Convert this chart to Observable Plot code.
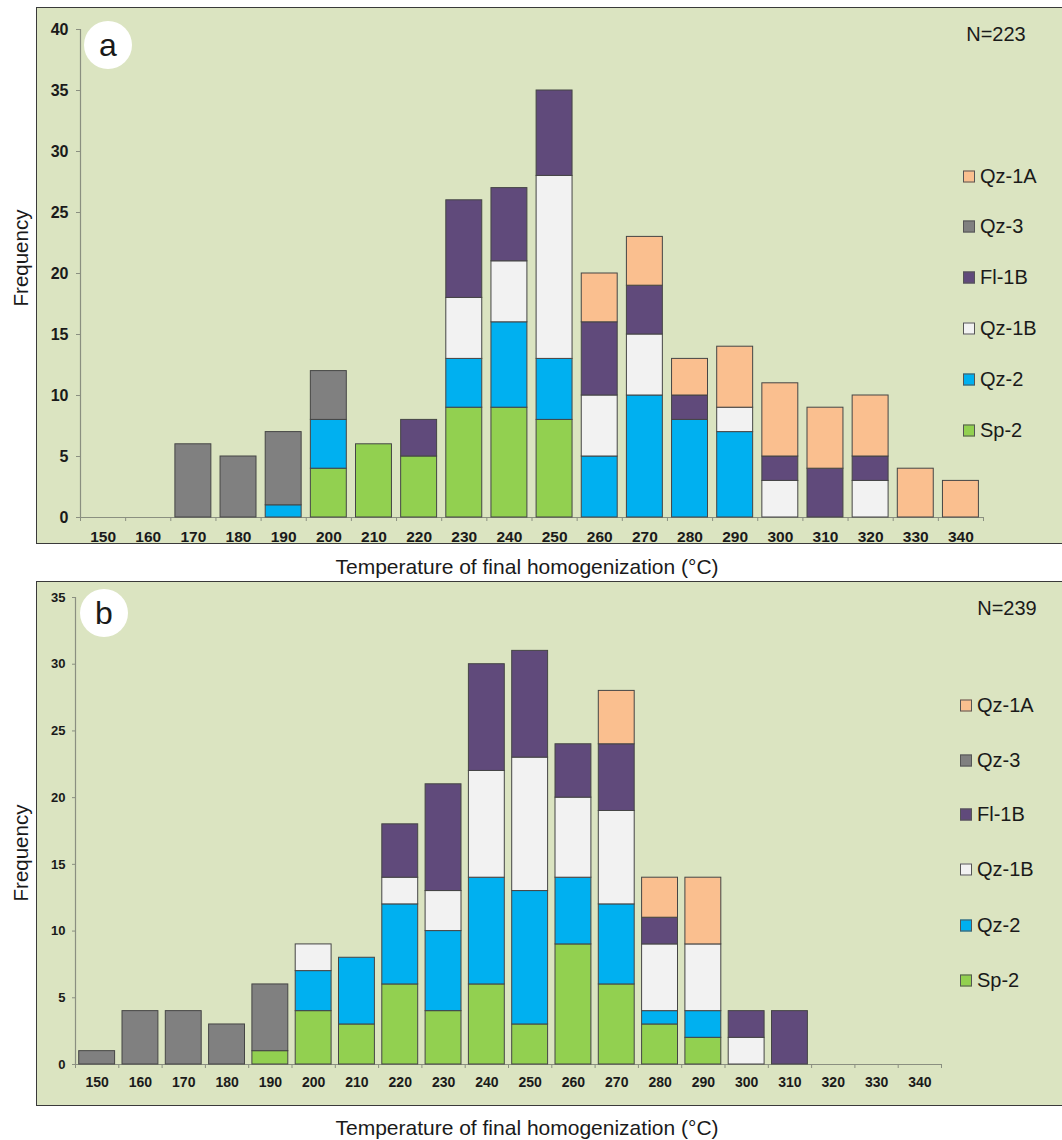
<!DOCTYPE html>
<html><head><meta charset="utf-8">
<script src="https://cdn.jsdelivr.net/npm/d3@7"></script>
<script src="https://cdn.jsdelivr.net/npm/@observablehq/plot@0.6"></script>
<style>
body{margin:0;background:#fff;font-family:"Liberation Sans",Arial,sans-serif;color:#1a1a1a;}
#root{position:relative;width:1062px;height:1140px;overflow:hidden;}
.box{position:absolute;left:36px;width:1040px;background:#dbe4c1;border:1.6px solid #3a3a3a;border-right:none;}
.abs{position:absolute;white-space:nowrap;}
.c{transform:translate(-50%,-50%);}
.rot{transform:translate(-50%,-50%) rotate(-90deg);}
.circ{position:absolute;background:#fff;border-radius:50%;display:flex;align-items:center;justify-content:center;font-size:32px;}
.leg{position:absolute;display:flex;align-items:center;font-size:20px;transform:translateY(-50%);}
.sw{width:10px;height:10px;border:1px solid #555;margin-right:5px;}
.plot{position:absolute;left:0;}
svg.pa .ylab text{font-size:16px !important;}
svg.pa .xlab text{font-size:15.5px !important;}
svg.pb .ylab text{font-size:13px !important;}
svg.pb .xlab text{font-size:14px !important;}
</style>
</head><body>
<div id="root"></div>
<script>
// ---- data ----
const temps = [150,160,170,180,190,200,210,220,230,240,250,260,270,280,290,300,310,320,330,340];
const seriesNames = ["Sp-2","Qz-2","Qz-1B","Fl-1B","Qz-3","Qz-1A"];        // stack order, bottom to top
const legendNames = ["Qz-1A","Qz-3","Fl-1B","Qz-1B","Qz-2","Sp-2"];        // legend order, top to bottom
const seriesColors = ["#92d050","#00b0f0","#f2f2f2","#604a7b","#808080","#fabf8f"];

// panel a
const aSp2  = [0,0,0,0,0,4,6,5,9,9,8,0,0,0,0,0,0,0,0,0];
const aQz2  = [0,0,0,0,1,4,0,0,4,7,5,5,10,8,7,0,0,0,0,0];
const aQz1B = [0,0,0,0,0,0,0,0,5,5,15,5,5,0,2,3,0,3,0,0];
const aFl1B = [0,0,0,0,0,0,0,3,8,6,7,6,4,2,0,2,4,2,0,0];
const aQz3  = [0,0,6,5,6,4,0,0,0,0,0,0,0,0,0,0,0,0,0,0];
const aQz1A = [0,0,0,0,0,0,0,0,0,0,0,4,4,3,5,6,5,5,4,3];
const aYTicks = [0,5,10,15,20,25,30,35,40];

// panel b
const bSp2  = [0,0,0,0,1,4,3,6,4,6,3,9,6,3,2,0,0,0,0,0];
const bQz2  = [0,0,0,0,0,3,5,6,6,8,10,5,6,1,2,0,0,0,0,0];
const bQz1B = [0,0,0,0,0,2,0,2,3,8,10,6,7,5,5,2,0,0,0,0];
const bFl1B = [0,0,0,0,0,0,0,4,8,8,8,4,5,2,0,2,4,0,0,0];
const bQz3  = [1,4,4,3,5,0,0,0,0,0,0,0,0,0,0,0,0,0,0,0];
const bQz1A = [0,0,0,0,0,0,0,0,0,0,0,0,4,3,5,0,0,0,0,0];
const bYTicks = [0,5,10,15,20,25,30,35];

const xTitle = "Temperature of final homogenization (°C)";
const yTitle = "Frequency";

function rows(arrs){
  const out = [];
  temps.forEach((t,i)=>{
    seriesNames.forEach((s,k)=>{ const v = arrs[k][i]; if (v>0) out.push({t, s, v}); });
  });
  return out;
}
const dataA = rows([aSp2,aQz2,aQz1B,aFl1B,aQz3,aQz1A]);
const dataB = rows([bSp2,bQz2,bQz1B,bFl1B,bQz3,bQz1A]);
const bounds = temps.map(t=>t-5).concat([temps[temps.length-1]+5]);

function panel(cfg){
  const {cls, data, yTicks, top, height, mL, mR, mT, mB, inset, xPad, yTick, yPad} = cfg;
  const xd = [bounds[0], bounds[bounds.length-1]];
  const ymax = yTicks[yTicks.length-1];
  const p = Plot.plot({
    width:1062, height, marginLeft:mL, marginRight:mR, marginTop:mT, marginBottom:mB,
    style:{background:"transparent", overflow:"visible", fontFamily:"'Liberation Sans',Arial,sans-serif"},
    x:{domain:xd, axis:null},
    y:{domain:[0,ymax], axis:null},
    color:{domain:seriesNames, range:seriesColors},
    marks:[
      Plot.ruleX([xd[0]], {y1:0, y2:ymax, stroke:"#8a8f80", strokeWidth:1.2}),
      Plot.ruleY([0], {stroke:"#8a8f80", strokeWidth:1.2}),
      Plot.axisY({ticks:yTicks, tickSize:yTick, tickPadding:yPad, fontWeight:"bold", stroke:"#8a8f80", fill:"#1a1a1a", label:null, className:"ylab"}),
      Plot.axisX({ticks:bounds, tickSize:4, tickFormat:()=>"", stroke:"#8a8f80", label:null}),
      Plot.axisX({ticks:temps, tickSize:0, tickPadding:xPad, fontWeight:"bold", fill:"#1a1a1a", tickFormat:d=>String(d), label:null, className:"xlab"}),
      Plot.rectY(data, {x1:d=>d.t-5, x2:d=>d.t+5, y:"v", fill:"s", stroke:"#454545", strokeWidth:1, insetLeft:inset, insetRight:inset})
    ]
  });
  p.classList.add("plot");
  p.classList.add(cls);
  p.style.top = top+"px";
  return p;
}

const root = document.getElementById("root");
function el(html){ const d=document.createElement("div"); d.innerHTML=html; const e=d.firstElementChild; root.appendChild(e); return e; }

// panel a
el(`<div class="box" style="top:7px;height:535px"></div>`);
root.appendChild(panel({cls:"pa", data:dataA, yTicks:aYTicks, top:0, height:550, mL:80, mR:79, mT:29, mB:33, inset:4.6, xPad:13, yTick:4, yPad:8}));
el(`<div class="circ" style="left:84px;top:21px;width:48px;height:48px">a</div>`);
el(`<div class="abs c" style="left:996px;top:34px;font-size:20px">N=223</div>`);
el(`<div class="abs rot" style="left:21px;top:258px;font-size:20.5px">${yTitle}</div>`);
el(`<div class="abs c" style="left:527px;top:567px;font-size:21px">${xTitle}</div>`);
const legA = [176,226,277,328,379,430];
legendNames.forEach((n,i)=>{
  el(`<div class="leg" style="left:963px;top:${legA[i]}px"><div class="sw" style="background:${seriesColors[seriesNames.indexOf(n)]}"></div>${n}</div>`);
});

// panel b
el(`<div class="box" style="top:581px;height:523px"></div>`);
root.appendChild(panel({cls:"pb", data:dataB, yTicks:bYTicks, top:580, height:530, mL:75, mR:121, mT:17, mB:46, inset:3.7, xPad:13, yTick:3, yPad:7}));
el(`<div class="circ" style="left:80px;top:589px;width:48px;height:48px">b</div>`);
el(`<div class="abs c" style="left:1007px;top:608px;font-size:20px">N=239</div>`);
el(`<div class="abs rot" style="left:21px;top:853px;font-size:20.5px">${yTitle}</div>`);
el(`<div class="abs c" style="left:527px;top:1128px;font-size:21px">${xTitle}</div>`);
const legB = [705,760,814,869,925,980];
legendNames.forEach((n,i)=>{
  el(`<div class="leg" style="left:960px;top:${legB[i]}px"><div class="sw" style="background:${seriesColors[seriesNames.indexOf(n)]}"></div>${n}</div>`);
});
</script>
</body></html>
